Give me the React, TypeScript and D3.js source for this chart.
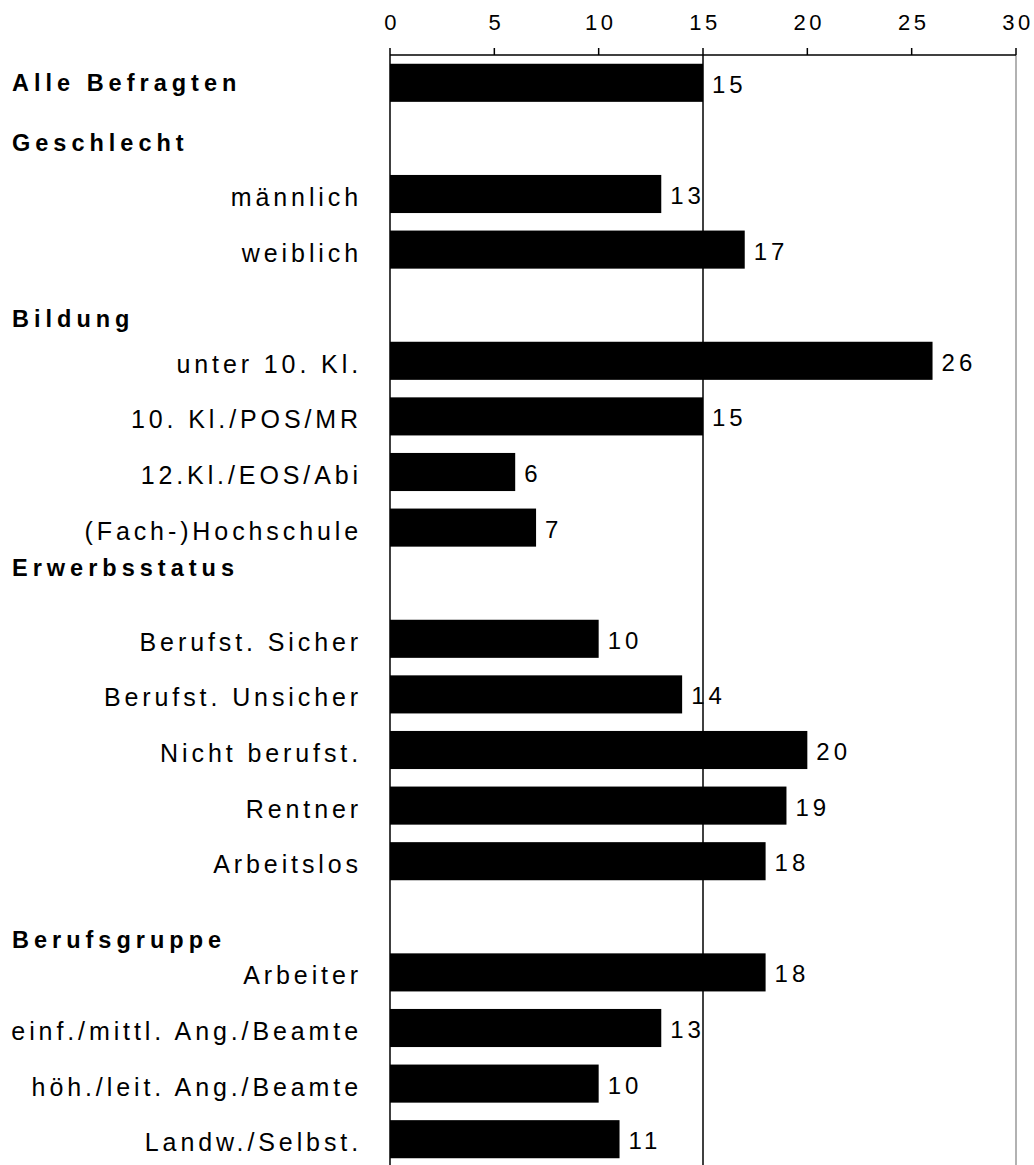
import React from "react";
import * as d3 from "d3";

const categories: string[] = [
  "Alle Befragten",
  "Geschlecht",
  "männlich",
  "weiblich",
  "Bildung",
  "unter 10. Kl.",
  "10. Kl./POS/MR",
  "12.Kl./EOS/Abi",
  "(Fach-)Hochschule",
  "Erwerbsstatus",
  "Berufst. Sicher",
  "Berufst. Unsicher",
  "Nicht berufst.",
  "Rentner",
  "Arbeitslos",
  "Berufsgruppe",
  "Arbeiter",
  "einf./mittl. Ang./Beamte",
  "höh./leit. Ang./Beamte",
  "Landw./Selbst.",
];

const values: (number | null)[] = [
  15, null, 13, 17, null, 26, 15, 6, 7, null, 10, 14, 20, 19, 18, null, 18, 13, 10, 11,
];

const headers: string[] = ["Alle Befragten", "Geschlecht", "Bildung", "Erwerbsstatus", "Berufsgruppe"];

const tickValues: number[] = [0, 5, 10, 15, 20, 25, 30];
const referenceValue = 15;

// layout / style
const W = 1034;
const H = 1165;
const headerDy: Record<string, number> = {
  "Alle Befragten": 0,
  Geschlecht: 4,
  Bildung: 13,
  Erwerbsstatus: -16,
  Berufsgruppe: 23,
};
const FONT = "'Liberation Sans', Arial, Helvetica, sans-serif";

export default function App() {
  const x = d3.scaleLinear().domain([0, 30]).range([390, 1016]);
  const y = d3
    .scaleBand<string>()
    .domain(categories)
    .range([55, 1167])
    .paddingInner(0.315)
    .paddingOuter(0.1575);

  const axisY = 55;

  return (
    <svg
      width={W}
      height={H}
      style={{ position: "absolute", left: 0, top: 0, background: "#fff" }}
      fontFamily={FONT}
    >
      <rect x={0} y={0} width={W} height={H} fill="#fff" />
      {/* right plot border */}
      <line x1={x(30)} x2={x(30)} y1={axisY} y2={H} stroke="#999" strokeWidth={1.5} />

      {/* bars */}
      {categories.map((c, i) => {
        const v = values[i];
        if (v == null) return null;
        return (
          <rect
            key={"b" + c}
            x={x(0)}
            y={y(c)!}
            width={x(v) - x(0)}
            height={y.bandwidth()}
            fill="#000"
          />
        );
      })}

      {/* reference line */}
      <line
        x1={x(referenceValue)}
        x2={x(referenceValue)}
        y1={axisY}
        y2={H}
        stroke="#000"
        strokeWidth={1.5}
      />
      {/* value axis line at 0 */}
      <line x1={x(0)} x2={x(0)} y1={axisY} y2={H} stroke="#000" strokeWidth={1.5} />

      {/* top axis */}
      <line x1={x(0)} x2={x(30)} y1={axisY} y2={axisY} stroke="#000" strokeWidth={1.5} />
      {tickValues.map((t) => (
        <g key={"t" + t}>
          <line x1={x(t)} x2={x(t)} y1={axisY - 7} y2={axisY} stroke="#000" strokeWidth={1.5} />
          <text
            x={x(t) + 2}
            y={30}
            textAnchor="middle"
            fontSize={22}
            letterSpacing={3.5}
            fill="#000"
          >
            {t}
          </text>
        </g>
      ))}

      {/* value labels */}
      {categories.map((c, i) => {
        const v = values[i];
        if (v == null) return null;
        const cy = y(c)! + y.bandwidth() / 2;
        return (
          <text
            key={"v" + c}
            x={x(v) + 9}
            y={cy + 10}
            fontSize={24}
            letterSpacing={4}
            fill="#000"
          >
            {v}
          </text>
        );
      })}

      {/* category labels */}
      {categories.map((c) => {
        const cy = y(c)! + y.bandwidth() / 2;
        if (headers.includes(c)) {
          return (
            <text
              key={"c" + c}
              x={12}
              y={cy + 8.5 + headerDy[c]}
              fontSize={23.5}
              fontWeight="bold"
              letterSpacing={5}
              fill="#000"
            >
              {c}
            </text>
          );
        }
        return (
          <text
            key={"c" + c}
            x={362}
            y={cy + 12}
            textAnchor="end"
            fontSize={25}
            letterSpacing={3.9}
            fill="#000"
          >
            {c}
          </text>
        );
      })}
    </svg>
  );
}
